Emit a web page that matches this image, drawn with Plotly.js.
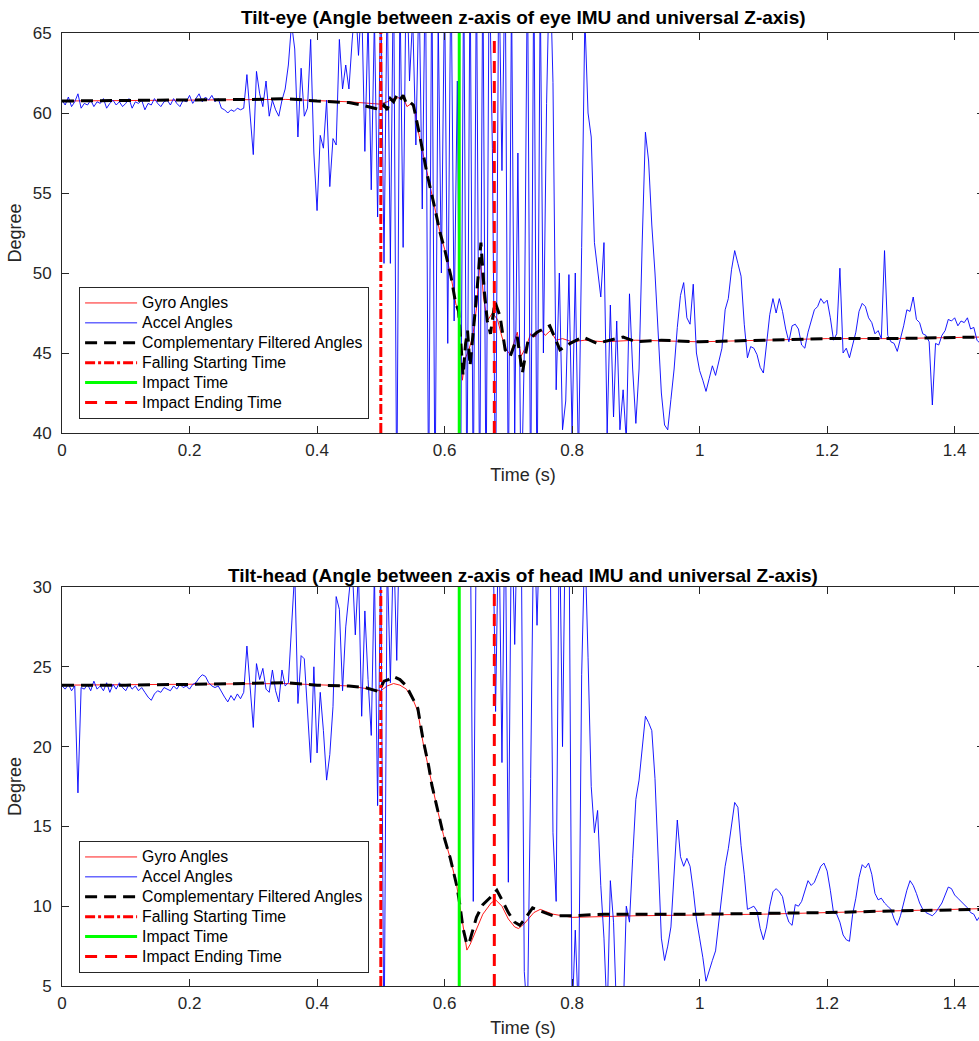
<!DOCTYPE html>
<html>
<head>
<meta charset="utf-8">
<script src="https://cdn.plot.ly/plotly-3.0.1.min.js"></script>
<style>
html, body { margin: 0; padding: 0; overflow: hidden; background: #fff; }
#chart { width: 986px; height: 1041px; }
</style>
</head>
<body>
<div id="chart"></div>
<script>
// ---------------- DATA ----------------
const accelStart = 0;      // s, first accel sample
const accelStep = 0.005;   // s, accel sample spacing

const eyeAccel = [
60.8,60.5,61.0,60.4,60.7,61.2,60.3,60.6,60.5,60.8,
60.4,60.7,60.6,60.9,60.3,60.6,60.8,60.5,60.7,60.4,
60.6,60.9,60.3,60.7,60.6,60.8,60.2,60.6,60.5,60.9,
60.6,60.4,60.7,60.8,60.5,60.9,60.6,60.4,60.8,60.7,
61.1,60.6,60.9,61.2,60.7,61.0,60.8,61.1,60.7,60.9,
60.3,60.2,60.0,60.2,60.1,60.3,60.2,60.3,62.4,60.0,
57.4,62.6,61.2,60.4,62.0,59.8,60.8,60.2,59.8,60.8,
61.5,63.0,65.6,64.0,58.5,62.8,59.8,60.3,64.6,57.5,
53.9,58.6,57.8,60.8,55.4,58.4,58.0,64.6,61.5,63.0,
61.5,64.5,67,63.6,67,57.6,66,55.2,66,53.5,
68,50.6,68,50.6,70,35,68,51.6,70,62,
66,58,68,54,70,35,70,35,66,50,
68,45.6,70,47,62,35,70,35,70,35,
70,35,70,35,70,57.8,35,70,56.4,70,
35,68,40,57.5,35,45,70,35,70,35,
68,45,60.6,70,61.9,42.7,50,40.2,42,49.9,
40,50,38,51.6,66,60,58.5,51.9,50,48.5,
51.9,40,48,41,47,40.2,42.7,39.5,48.7,44,
40.6,44,52,58.8,57,53,50,46,42.5,40.5,
40.2,42.1,44,46.6,48.6,49.4,47.2,46.8,49.3,45,
43.9,43.3,42.6,43.4,44.2,43.6,44.5,45.3,47.7,48.4,
50.2,51.4,50.6,49.8,46.8,44.7,45.4,45.3,44.9,44.1,
43.75,45.7,47.4,48.4,47.5,48.4,47.6,46.5,45.7,46.7,
46.8,46.5,45.5,45.3,46.3,47.0,47.7,47.9,48.4,48.1,
48.3,47.2,45.8,46.2,50.3,45.0,45.3,44.7,45.6,46.3,
47.6,48.1,47.9,47.2,46.9,46.2,46.4,45.9,51.4,46.1,
45.7,45.6,45.1,45.9,46.7,47.7,47.6,48.5,47.1,46.9,
46.2,46.1,45.7,41.75,45.6,45.5,46.1,46.4,47.1,47.0,
47.2,46.7,47.0,46.9,47.2,46.5,46.6,45.8,45.6
];

const headAccel = [
23.8,23.6,23.9,23.5,23.8,17.1,23.7,23.6,23.9,23.5,
24.1,23.6,23.8,23.5,24.0,23.4,23.9,23.6,24.0,23.7,
23.5,23.9,23.6,23.8,23.5,23.7,23.4,23.1,22.9,23.3,
23.5,23.4,23.7,23.6,23.5,23.8,23.6,23.9,23.7,23.8,
23.6,23.9,24.0,24.3,24.5,24.4,24.0,23.8,23.7,23.8,
23.4,23.1,22.8,23.2,22.9,23.3,23.0,23.4,26.3,23.5,
21.2,25.2,24.2,24.9,23.6,23.4,24.8,23.5,22.8,24.8,
23.8,24.0,27.7,31,22.7,25.7,25.5,22.1,19.0,25.0,
19.6,23.4,21.0,17.9,19.5,22.5,29.4,28.6,23.5,27.5,
29.8,31.5,27.0,31.0,21.9,28.5,24.2,20.7,31,16.3,
32,0,32,24,33,25.4,35,38,36,40,
37,42,38,45,40,44,39,41,43,38,
42,40,45,41,38,43,40,37,36,10.3,
35,36,38,37,35,36,22.2,35,19.0,36,
11.5,35,26.4,36,35,5.9,3,18.0,35,27.6,
35,36,37,35,14.6,10.3,35,20,36,35,
3,8.5,3,24.5,33,25.6,17.5,14.6,16,11.3,
8.0,3,11.6,9,3,5,3,10,9,13,
16.7,17.9,19.8,21.9,21.5,21.0,18,13,8.0,6.6,
7.5,8.7,12,15.4,13.1,12.5,13.0,12.5,11.0,9.2,
8.0,6.8,5.3,6.0,6.6,7.2,9.0,10.6,12.5,13.6,
15.2,16.5,16.2,13.8,12.0,9.8,9.9,10.0,9.7,8.6,
7.9,8.7,10.0,10.9,11.1,10.9,10.6,9.6,9.0,8.8,
10.1,10.0,10.3,11.0,11.6,11.3,11.5,12.0,12.5,12.7,
12.2,11.0,9.6,9.5,9.0,8.2,7.9,7.8,9.5,10.5,
11.8,12.6,12.4,12.7,12.0,10.8,10.4,10.5,10.2,10.0,
9.8,9.2,8.8,9.4,10.3,11.0,11.6,11.3,10.8,10.2,
9.8,9.6,9.5,9.4,9.6,9.9,10.2,10.7,11.2,11.1,
10.7,10.5,10.3,10.1,9.9,9.6,9.5,9.1,9.4
];

const eyeGyroT = [0,0.2,0.35,0.45,0.5,0.51,0.52,0.535,0.541,0.548,0.553,0.56,0.5725,0.585,0.593,0.6,0.61,0.618,0.621,0.624,0.628,0.632,0.638,0.644,0.65,0.656,0.661,0.667,0.675,0.683,0.69,0.697,0.703,0.708,0.714,0.72,0.728,0.735,0.742,0.75,0.758,0.766,0.775,0.785,0.8,0.82,0.85,0.9,1.0,1.1,1.2,1.3,1.446];
const eyeGyroV = [60.75,60.8,60.85,60.7,60.55,60.7,60.9,61.0,60.4,60.6,60.2,58.6,56.2,54.0,52.5,51.5,49.8,48.0,47.9,45.2,43.3,44.6,45.2,46.0,47.8,51.0,48.5,47.0,47.5,47.1,46.0,45.2,44.9,45.6,46.3,44.8,45.4,46.2,46.0,46.5,46.1,46.4,45.8,45.9,45.7,45.8,45.7,45.8,45.7,45.8,45.9,45.9,46.0];

const eyeCompT = [0,0.1,0.2,0.3,0.35,0.4,0.45,0.47,0.49,0.5,0.505,0.51,0.515,0.52,0.525,0.53,0.535,0.54,0.545,0.551,0.56,0.5725,0.585,0.593,0.6,0.61,0.617,0.622,0.626,0.629,0.633,0.636,0.64,0.644,0.65,0.657,0.662,0.667,0.672,0.679,0.687,0.695,0.703,0.714,0.722,0.731,0.745,0.765,0.781,0.797,0.817,0.839,0.86,0.88,0.9,0.94,1.0,1.1,1.2,1.3,1.446];
const eyeCompV = [60.75,60.78,60.8,60.85,60.9,60.75,60.65,60.5,60.3,60.2,60.5,60.2,60.9,60.7,61.1,60.8,61.1,60.6,60.7,60.5,58.8,56.2,54.0,52.5,51.5,49.8,48.2,47.6,45.4,43.6,45.6,46.4,44.2,45.8,48.5,51.9,49.0,47.0,46.2,48.2,47.3,45.2,44.8,46.0,43.75,45.8,46.3,46.7,45.2,45.6,46.0,45.6,45.8,46.0,45.7,45.8,45.7,45.8,45.9,45.9,46.0];

const headGyroT = [0,0.2,0.35,0.45,0.5,0.51,0.52,0.53,0.54,0.551,0.558,0.566,0.575,0.588,0.598,0.609,0.619,0.624,0.629,0.635,0.64,0.65,0.66,0.673,0.68,0.69,0.70,0.71,0.716,0.725,0.74,0.75,0.77,0.8,0.9,1.0,1.1,1.2,1.3,1.446];
const headGyroV = [23.85,23.9,23.95,23.8,23.5,23.8,23.95,23.85,23.6,22.9,22.2,20.3,18.6,16.2,14.5,13.0,11.3,10.0,8.6,7.25,7.6,8.6,9.5,10.2,10.4,10.0,9.2,8.7,8.6,8.9,9.6,9.8,9.5,9.3,9.4,9.45,9.5,9.6,9.7,9.85];

const headCompT = [0,0.1,0.2,0.3,0.35,0.4,0.45,0.475,0.49,0.497,0.505,0.512,0.519,0.525,0.53,0.54,0.551,0.558,0.566,0.575,0.58,0.588,0.598,0.609,0.619,0.624,0.629,0.635,0.64,0.65,0.66,0.673,0.682,0.69,0.7,0.71,0.718,0.726,0.738,0.75,0.77,0.8,0.85,0.9,1.0,1.1,1.2,1.3,1.446];
const headCompV = [23.85,23.85,23.9,23.95,24.0,23.85,23.8,23.7,23.5,23.45,24.1,24.2,24.4,24.3,24.2,23.8,23.0,22.4,20.5,18.8,17.6,16.3,14.5,13.0,11.3,10.1,8.6,7.6,7.9,9.3,10.1,10.6,11.0,10.4,9.6,9.0,8.8,9.2,9.9,9.7,9.4,9.4,9.5,9.5,9.5,9.55,9.6,9.7,9.8];

// event times: falling start, impact, impact end
const eventNames = ['Falling Starting Time', 'Impact Time', 'Impact Ending Time'];
const eventTimes = [0.5, 0.623, 0.678];

const eyeRange = [40, 65];
const headRange = [5, 30];
const timeRange = [0, 1.446];
const xTickVals = [0, 0.2, 0.4, 0.6, 0.8, 1, 1.2, 1.4];
const eyeTickVals = [40, 45, 50, 55, 60, 65];
const headTickVals = [5, 10, 15, 20, 25, 30];

const seriesNames = ['Gyro Angles', 'Accel Angles', 'Complementary Filtered Angles'];
const titles = [
  'Tilt-eye (Angle between z-axis of eye IMU and universal Z-axis)',
  'Tilt-head (Angle between z-axis of head IMU and universal Z-axis)'
];

// ---------------- STYLE ----------------
const AX = '#262626';
const LEG_TXT = 'font-size:15.8px';
const eventStyles = [
  {color: '#ff0000', width: 3, dash: '10px,3px,3px,3px'},
  {color: '#00ff00', width: 3, dash: 'solid'},
  {color: '#ff0000', width: 3, dash: '12px,8px'}
];
function legName(s) { return '<span style="' + LEG_TXT + '">' + s + '</span>'; }

function panelTraces(xa, ya, leg, gT, gV, acc, cT, cV, yr) {
  const tr = [];
  tr.push({type: 'scatter', mode: 'lines', name: legName(seriesNames[0]), x: gT, y: gV,
    xaxis: xa, yaxis: ya, legend: leg, line: {color: '#ff0000', width: 0.9}});
  tr.push({type: 'scatter', mode: 'lines', name: legName(seriesNames[1]), x0: accelStart, dx: accelStep, y: acc,
    xaxis: xa, yaxis: ya, legend: leg, line: {color: '#0000ff', width: 0.9}});
  tr.push({type: 'scatter', mode: 'lines', name: legName(seriesNames[2]), x: cT, y: cV,
    xaxis: xa, yaxis: ya, legend: leg, line: {color: '#000000', width: 3, dash: '12px,7px'}});
  eventTimes.forEach((t, i) => {
    tr.push({type: 'scatter', mode: 'lines', name: legName(eventNames[i]), x: [t, t], y: yr,
      xaxis: xa, yaxis: ya, legend: leg, line: eventStyles[i]});
  });
  return tr;
}

const data = [].concat(
  panelTraces('x', 'y', 'legend', eyeGyroT, eyeGyroV, eyeAccel, eyeCompT, eyeCompV, eyeRange),
  panelTraces('x2', 'y2', 'legend2', headGyroT, headGyroV, headAccel, headCompT, headCompV, headRange)
);

const H = 953; // plot-area height in px (paper units)
function xAxis(anchor) {
  return {
    anchor: anchor, domain: [0, 1], range: timeRange, tickvals: xTickVals,
    ticks: 'inside', ticklen: 7, tickcolor: AX, tickwidth: 1,
    showline: true, linecolor: AX, linewidth: 1, mirror: 'ticks',
    showgrid: false, zeroline: false, ticklabelstandoff: 2,
    tickfont: {size: 17, color: AX},
    title: {text: 'Time (s)', font: {size: 18, color: AX}, standoff: 8}
  };
}
function yAxis(anchor, dom, range, tv) {
  return {
    anchor: anchor, domain: dom, range: range, tickvals: tv,
    ticks: 'inside', ticklen: 7, tickcolor: AX, tickwidth: 1,
    showline: true, linecolor: AX, linewidth: 1, mirror: 'ticks',
    showgrid: false, zeroline: false, ticklabelstandoff: 6,
    tickfont: {size: 17, color: AX},
    title: {text: 'Degree', font: {size: 18, color: AX}, standoff: 6}
  };
}
function legendBox(yTop) {
  return {
    x: 17 / 917, y: yTop, xanchor: 'left', yanchor: 'top',
    bgcolor: '#ffffff', bordercolor: AX, borderwidth: 1,
    itemwidth: 52, tracegroupgap: 0,
    font: {size: 13.0, color: '#000000'}
  };
}

const layout = {
  width: 986, height: 1041,
  margin: {l: 62, r: 2, t: 33, b: 55},
  paper_bgcolor: '#ffffff', plot_bgcolor: '#ffffff',
  font: {family: '"Liberation Sans", Arial, Helvetica, sans-serif', size: 14, color: AX},
  showlegend: true,
  xaxis: xAxis('y'),
  yaxis: yAxis('x', [553 / H, 1], eyeRange, eyeTickVals),
  xaxis2: xAxis('y2'),
  yaxis2: yAxis('x2', [0, 399 / H], headRange, headTickVals),
  legend: legendBox((986 - 287) / H),
  legend2: legendBox((986 - 841) / H),
  annotations: [
    {text: '<b>' + titles[0] + '</b>', xref: 'paper', yref: 'paper', x: 0.5, y: (986 - 18) / H,
     xanchor: 'center', yanchor: 'middle', showarrow: false, font: {size: 19, color: '#000000'}},
    {text: '<b>' + titles[1] + '</b>', xref: 'paper', yref: 'paper', x: 0.5, y: (986 - 575) / H,
     xanchor: 'center', yanchor: 'middle', showarrow: false, font: {size: 19, color: '#000000'}}
  ]
};

Plotly.newPlot('chart', data, layout, {staticPlot: true, displayModeBar: false});
</script>
</body>
</html>
